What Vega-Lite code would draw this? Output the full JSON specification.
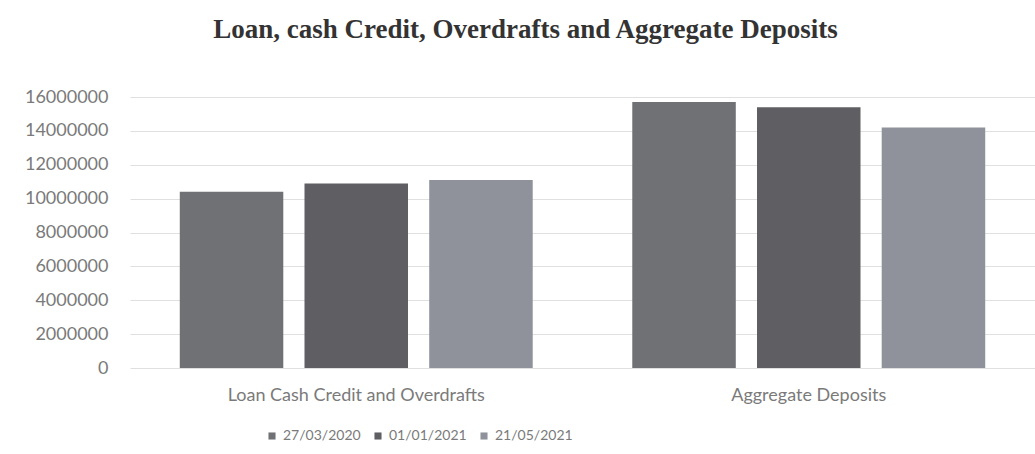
{
  "$schema": "https://vega.github.io/schema/vega-lite/v6.json",
  "autosize": {"type": "none"},
  "width": 905,
  "height": 271,
  "padding": {"left": 130, "top": 97, "right": 0, "bottom": 86},
  "background": "white",
  "title": {
    "text": "Loan, cash Credit, Overdrafts and Aggregate Deposits",
    "font": "Liberation Serif",
    "fontSize": 27,
    "fontWeight": "bold",
    "color": "#333333",
    "anchor": "middle",
    "dx": -57,
    "offset": 44
  },
  "data": {
    "values": [
      {"category": "Loan Cash Credit and Overdrafts", "date": "27/03/2020", "value": 10400000},
      {"category": "Loan Cash Credit and Overdrafts", "date": "01/01/2021", "value": 10900000},
      {"category": "Loan Cash Credit and Overdrafts", "date": "21/05/2021", "value": 11100000},
      {"category": "Aggregate Deposits", "date": "27/03/2020", "value": 15700000},
      {"category": "Aggregate Deposits", "date": "01/01/2021", "value": 15400000},
      {"category": "Aggregate Deposits", "date": "21/05/2021", "value": 14200000}
    ]
  },
  "mark": {"type": "bar"},
  "encoding": {
    "x": {
      "field": "category",
      "type": "nominal",
      "sort": null,
      "scale": {"paddingInner": 0.22, "paddingOuter": 0.11},
      "axis": {
        "title": null,
        "labelAngle": 0,
        "labelFont": "Lato",
        "labelFontSize": 18,
        "labelLimit": 450,
        "labelColor": "#7a7a7a",
        "labelPadding": 18,
        "domain": false,
        "ticks": false
      }
    },
    "xOffset": {
      "field": "date",
      "type": "nominal",
      "sort": null,
      "scale": {"paddingInner": 0.17}
    },
    "y": {
      "field": "value",
      "type": "quantitative",
      "scale": {"domain": [0, 16000000], "nice": false},
      "axis": {
        "title": null,
        "values": [0, 2000000, 4000000, 6000000, 8000000, 10000000, 12000000, 14000000, 16000000],
        "format": "d",
        "labelFont": "Lato",
        "labelFontSize": 18,
        "labelColor": "#7a7a7a",
        "labelPadding": 22,
        "domain": false,
        "ticks": false,
        "gridColor": "#e0e0e0",
        "gridWidth": 1
      }
    },
    "color": {
      "field": "date",
      "type": "nominal",
      "sort": null,
      "scale": {"domain": ["27/03/2020", "01/01/2021", "21/05/2021"], "range": ["#707174", "#5f5f63", "#8f929a"]},
      "legend": {
        "title": null,
        "orient": "none",
        "direction": "horizontal",
        "legendX": 135,
        "legendY": 332,
        "symbolType": "square",
        "symbolSize": 50,
        "labelFont": "Lato",
        "labelFontSize": 14,
        "labelColor": "#7a7a7a",
        "columnPadding": 10
      }
    }
  },
  "config": {"view": {"stroke": null}}
}
